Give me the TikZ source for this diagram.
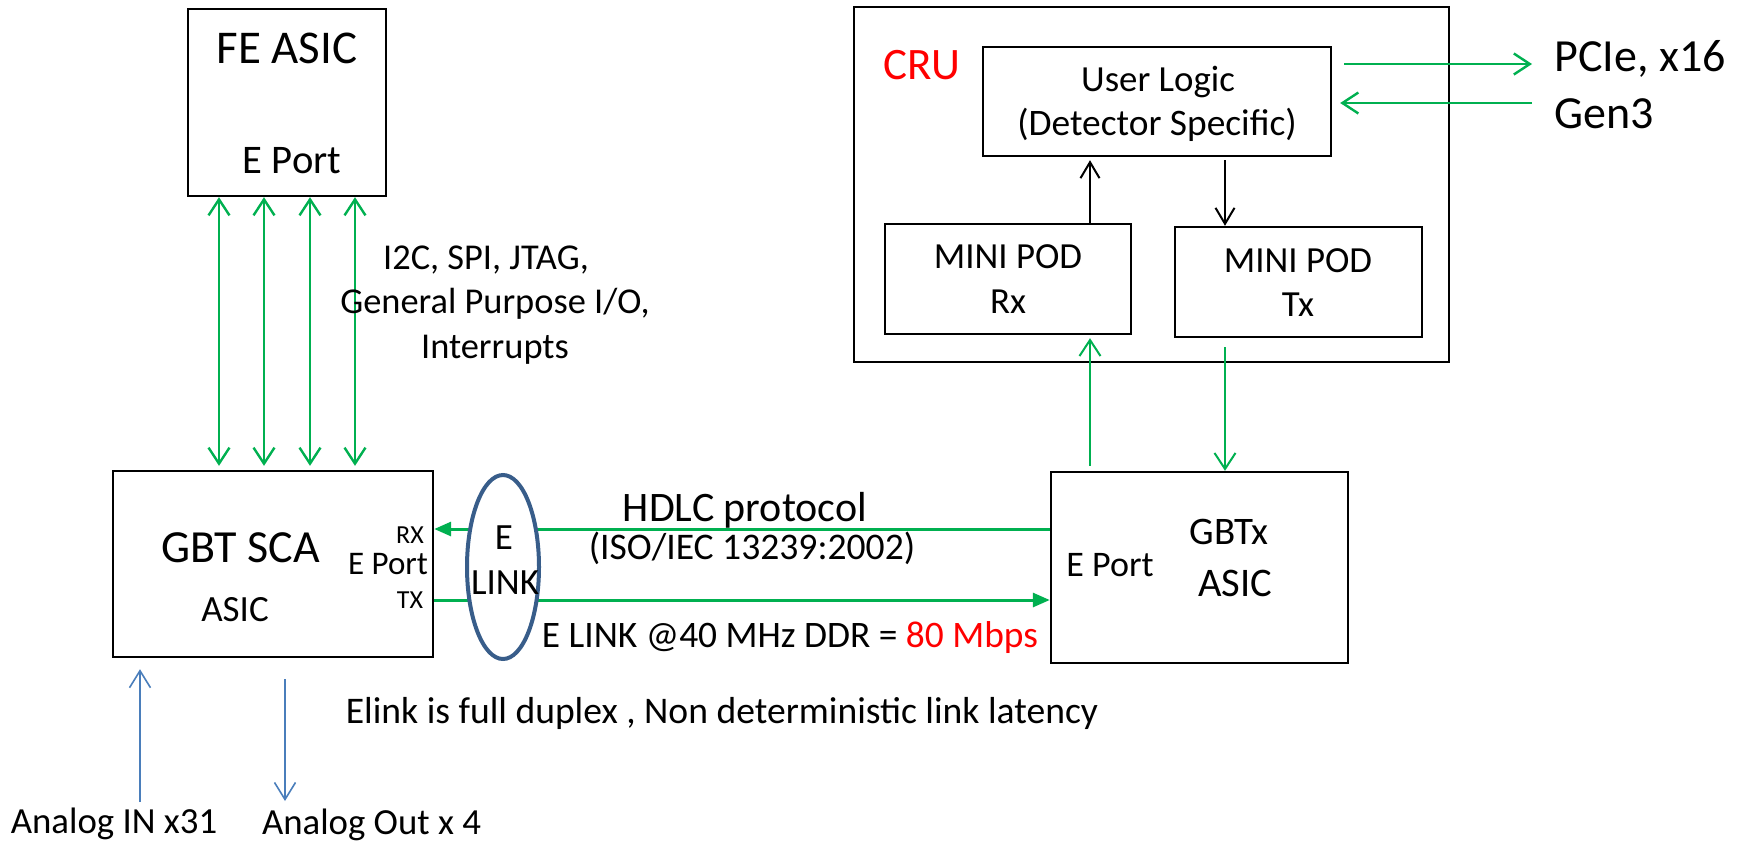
\documentclass[tikz,border=0pt]{standalone}
\usepackage{fontspec}
\setmainfont{Carlito}
\usetikzlibrary{arrows.meta,shapes.geometric}
\definecolor{grn}{HTML}{00B050}
\definecolor{blu}{HTML}{4A7EBB}
\definecolor{ell}{HTML}{385D8A}
\definecolor{rd}{HTML}{FF0000}
\newcommand\fsz[1]{\fontsize{#1}{#1}\selectfont}
\begin{document}
\begin{tikzpicture}[x=0.5pt,y=-0.5pt,
  box/.style={draw,line width=1.2pt,inner sep=0pt,fill=none},
  txt/.style={anchor=base,inner sep=0pt},
  gopen/.style={draw=grn,line width=1.2pt,arrows={-Straight Barb[length=8pt,width=10.5pt]}},
  gboth/.style={draw=grn,line width=1.2pt,arrows={Straight Barb[length=8pt,width=10.5pt]-Straight Barb[length=8pt,width=10.5pt]}},
  gfill/.style={draw=grn,line width=1.5pt,arrows={-Triangle[length=8.5pt,width=7pt]}},
  bopen/.style={draw=black,line width=1pt,arrows={-Straight Barb[length=8pt,width=9.5pt]}},
  bluopen/.style={draw=blu,line width=0.8pt,arrows={-Straight Barb[length=8.5pt,width=10.5pt]}}
]
\useasboundingbox (0,0) rectangle (1750,841);

% boxes
\node[box,minimum width=99pt,minimum height=93.5pt] (fe) at (287,102.5) {};
\node[box,minimum width=160pt,minimum height=93pt] (sca) at (273,564) {};
\node[box,minimum width=148.5pt,minimum height=95.5pt] (gbtx) at (1199.5,567.5) {};
\node[box,minimum width=297.5pt,minimum height=177.5pt] (cru) at (1151.5,184.5) {};
\node[box,minimum width=174pt,minimum height=54.5pt] (ul) at (1157,101.5) {};
\node[box,minimum width=123pt,minimum height=55pt] (podrx) at (1008,279) {};
\node[box,minimum width=123.5pt,minimum height=55pt] (podtx) at (1298.5,282) {};

% helper coordinates
\coordinate (a1) at (219,0);
\coordinate (a2) at (264,0);
\coordinate (a3) at (310,0);
\coordinate (a4) at (355,0);
\coordinate (rx) at (0,529);
\coordinate (tx) at (0,600);
\coordinate (c1) at (1090,0);
\coordinate (c2) at (1225,0);
\coordinate (p1) at (0,64);
\coordinate (p2) at (0,103);
\coordinate (pcieR) at (1532,64);
\coordinate (pcieL) at (1532,103);
\coordinate (ainbot) at (140,802);
\coordinate (aoutbot) at (285,801);

% FE <-> SCA arrows
\foreach \a in {a1,a2,a3,a4}
  \draw[gboth,shorten >=2pt] (fe.south -| \a) -- (sca.north -| \a);

% E link arrows
\draw[gfill] (gbtx.west |- rx) -- (sca.east |- rx);
\draw[gfill] (sca.east |- tx) -- (gbtx.west |- tx);

% E LINK ellipse
\node[ellipse,draw=ell,line width=2pt,fill=white,minimum width=36pt,minimum height=92pt,inner sep=0pt] (elink) at (503,567) {};

% GBTx <-> CRU
\draw[gopen,line width=1pt,shorten <=2.5pt,shorten >=1.5pt] (gbtx.north -| c1) -- (podrx.south -| c1);
\draw[gopen,line width=1pt,shorten <=4.5pt] (podtx.south -| c2) -- (gbtx.north -| c2);

% inside CRU
\draw[bopen,shorten >=1.5pt] (podrx.north -| c1) -- (ul.south -| c1);
\draw[bopen,shorten <=1.5pt] (ul.south -| c2) -- (podtx.north -| c2);

% PCIe
\draw[gopen,shorten <=6pt] (ul.east |- p1) -- (pcieR);
\draw[gopen,shorten >=4pt] (pcieL) -- (ul.east |- p2);

% analog
\draw[bluopen,shorten >=5.5pt] (ainbot) -- (sca.south -| ainbot);
\draw[bluopen,shorten <=10.5pt] (sca.south -| aoutbot) -- (aoutbot);

% texts
\node[txt] (tfe) at (287,63) {\fsz{23.5}FE ASIC};
\node[txt] (tfep) at (292,173) {\fsz{20.3}E Port};
\node[txt] (ti1) at (486,269) {\fsz{18.2}I2C, SPI, JTAG,};
\node[txt] (ti2) at (495,313) {\fsz{18.2}General Purpose I/O,};
\node[txt] (ti3) at (495,358) {\fsz{18.2}Interrupts};

\node[txt] (tsca) at (241,562) {\fsz{23}GBT SCA};
\node[txt] (tscaa) at (235,621) {\fsz{18.5}ASIC};
\node[txt] (tscap) at (388,574) {\fsz{16.5}E Port};
\node[txt] (trx) at (410,543) {\fsz{13}RX};
\node[txt] (ttx) at (410,608) {\fsz{13}TX};
\node[txt] (te) at (504,549) {\fsz{18.5}E};
\node[txt] (tlink) at (505,594) {\fsz{18.5}LINK};

\node[txt] (thdlc) at (745,521) {\fsz{21}HDLC protocol};
\node[txt] (tiso) at (752,559) {\fsz{18.8}(ISO/IEC 13239:2002)};
\node[txt] (trate) at (790,647) {\fsz{18.7}E LINK @40 MHz DDR = \textcolor{rd}{80 Mbps}};
\node[txt] (tdup) at (722,723) {\fsz{18.8}Elink is full duplex , Non deterministic link latency};

\node[txt] (tain) at (114,833) {\fsz{18.4}Analog IN x31};
\node[txt] (taout) at (371.5,834) {\fsz{18.4}Analog Out x 4};

\node[txt] (tgep) at (1110,576) {\fsz{18}E Port};
\node[txt] (tgb) at (1229,544) {\fsz{19.5}GBTx};
\node[txt] (tga) at (1235,596) {\fsz{20.3}ASIC};

\node[txt,text=rd] (tcru) at (922,79) {\fsz{22.5}CRU};
\node[txt] (tul1) at (1158,91) {\fsz{18.4}User Logic};
\node[txt] (tul2) at (1157,135) {\fsz{18.7}(Detector Specific)};
\node[txt] (trx1) at (1008,268) {\fsz{18.4}MINI POD};
\node[txt] (trx2) at (1008,313) {\fsz{18.4}Rx};
\node[txt] (ttx1) at (1298,272) {\fsz{18.4}MINI POD};
\node[txt] (ttx2) at (1298,316) {\fsz{18.4}Tx};

\node[txt,anchor=base west] (tpcie) at (1554,71) {\fsz{23}PCIe, x16};
\node[txt,anchor=base west] (tgen) at (1554,128) {\fsz{23}Gen3};
\end{tikzpicture}
\end{document}
